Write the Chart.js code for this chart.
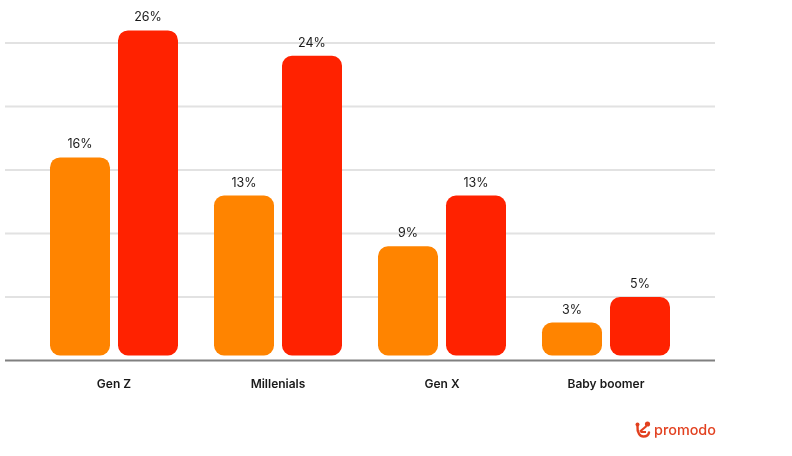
<!DOCTYPE html>
<html>
<head>
<meta charset="utf-8">
<style>
  html, body { margin: 0; padding: 0; background: #fff; }
  #wrap { position: relative; width: 792px; height: 456px; overflow: hidden; }
  #logoText { position: absolute; left: 654px; top: 420px; font: 500 14.4px Inter, sans-serif; color: #e2401f; line-height: 20px; }
  #logoIcon { position: absolute; left: 634px; top: 421px; }
</style>
<script src="https://cdn.jsdelivr.net/npm/chart.js@4"></script>
</head>
<body>
<div id="wrap">
  <canvas id="chart" width="792" height="456"></canvas>
  <svg id="logoIcon" width="18" height="18" viewBox="0 0 18 18">
    <circle cx="3.5" cy="3.5" r="2" fill="#e2401f"/>
    <circle cx="13.5" cy="3" r="2.6" fill="#e2401f"/>
    <path d="M3.5 5 C3 12 6 15.5 9.5 15.5 C12.5 15.5 14.5 14 15 11.5" fill="none" stroke="#e2401f" stroke-width="2.4" stroke-linecap="round"/>
    <path d="M6 10.5 L12.5 5" fill="none" stroke="#e2401f" stroke-width="2.2"/>
    <path d="M6.5 11 L12 11" fill="none" stroke="#e2401f" stroke-width="2"/>
  </svg>
  <div id="logoText">promodo</div>
</div>
<script>
const categories = ['Gen Z', 'Millenials', 'Gen X', 'Baby boomer'];
const orangeValues = [16, 13, 9, 3];
const redValues = [26, 24, 13, 5];
const gridValues = [5, 10, 15, 20, 25];

// Grid runs wider than the category slots, so it is drawn here
const gridPlugin = {
    id: 'wideGrid',
    beforeDatasetsDraw(chart) {
        const ctx = chart.ctx;
        const y = chart.scales.y;
        ctx.save();
        ctx.lineWidth = 2;
        ctx.strokeStyle = '#e2e2e2';
        gridValues.forEach(function(v) {
            const py = y.getPixelForValue(v);
            ctx.beginPath();
            ctx.moveTo(5, py);
            ctx.lineTo(715, py);
            ctx.stroke();
        });
        ctx.strokeStyle = '#808080';
        const py0 = y.getPixelForValue(0);
        ctx.beginPath();
        ctx.moveTo(5, py0);
        ctx.lineTo(715, py0);
        ctx.stroke();
        ctx.restore();
    }
};

// Value labels above each bar
const labelPlugin = {
    id: 'valueLabels',
    afterDatasetsDraw(chart) {
        const ctx = chart.ctx;
        ctx.save();
        ctx.font = '400 12.5px Inter, sans-serif';
        ctx.fillStyle = '#1a1a1a';
        ctx.textAlign = 'center';
        ctx.textBaseline = 'alphabetic';
        chart.data.datasets.forEach(function(ds, i) {
            chart.getDatasetMeta(i).data.forEach(function(bar, j) {
                ctx.fillText(ds.data[j] + '%', bar.x, bar.y - 9);
            });
        });
        ctx.restore();
    }
};

new Chart(document.getElementById('chart').getContext('2d'), {
    type: 'bar',
    data: {
        labels: categories,
        datasets: [
            { data: orangeValues, backgroundColor: '#ff8400', base: 0.4 },
            { data: redValues, backgroundColor: '#ff2200', base: 0.4 }
        ]
    },
    options: {
        responsive: false,
        animation: false,
        layout: { padding: { left: 32, right: 104, top: 5, bottom: 55 } },
        categoryPercentage: 136 / 164,
        barPercentage: 60 / 68,
        borderRadius: 10,
        borderSkipped: false,
        scales: {
            x: {
                grid: { display: false },
                border: { display: false },
                ticks: {
                    color: '#1a1a1a',
                    font: { family: 'Inter, sans-serif', size: 12, weight: '600' },
                    padding: 9,
                    maxRotation: 0
                }
            },
            y: {
                display: false,
                min: 0,
                max: 28,
                ticks: { stepSize: 5 }
            }
        },
        plugins: {
            legend: { display: false },
            tooltip: { enabled: false }
        }
    },
    plugins: [gridPlugin, labelPlugin]
});
</script>
</body>
</html>
